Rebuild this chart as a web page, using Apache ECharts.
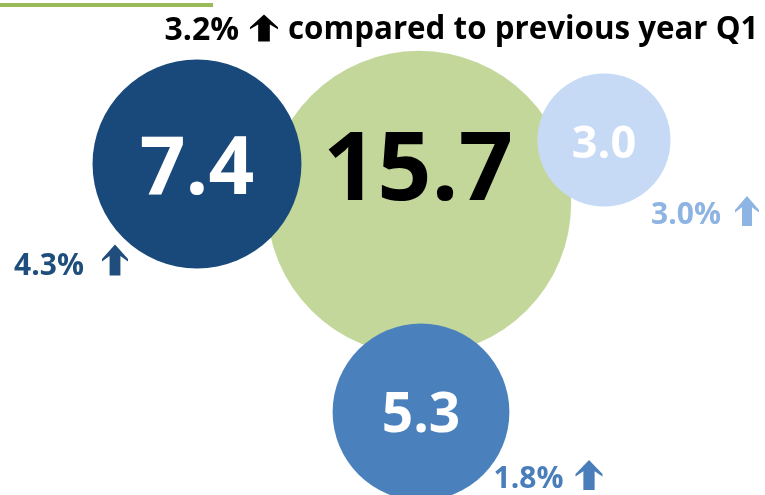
<!DOCTYPE html>
<html>
<head>
<meta charset="utf-8">
<script src="https://cdn.jsdelivr.net/npm/echarts@6/dist/echarts.min.js"></script>
<style>
  html, body { margin: 0; padding: 0; background: #ffffff; }
  #chart { width: 765px; height: 495px; }
</style>
</head>
<body>
<div id="chart"></div>
<script>
// Quarterly figures shown as area-proportional bubbles
const bubbleNames  = ['Total', 'Segment A', 'Segment B', 'Segment C'];
const bubbleValues = [15.7, 7.4, 3.0, 5.3];

// Year-over-year change for the total and each segment
const changeNames  = ['Total', 'Segment A', 'Segment B', 'Segment C'];
const changeValues = [3.2, 4.3, 3.0, 1.8];
const titleSuffix  = 'compared to previous year Q1';

// Layout: bubble centres and label placement (canvas units)
const bubbleCenters = [[419, 203], [197, 164], [604, 140], [421, 412]];
const bubbleColors  = ['#C4D79B', '#18497A', '#C6DAF5', '#4A81BD'];
const valueFonts    = [95, 80, 45, 55];
const valueColors   = ['#000000', '#ffffff', '#ffffff', '#ffffff'];
const valueOffsets  = [[-1, -30], [0, 7], [0, 5], [0, 4]];

const arrowCenters  = [[264, 28], [115, 260], [747, 211], [589, 475]];
const arrowSizes    = [[28, 27], [26, 31], [24, 30], [27, 30]];
const changeColors  = ['#000000', '#1F4E7D', '#8DB4E2', '#4A7EBB'];
const changeFonts   = [32, 30, 30, 30];
const changeGaps    = [11, 16, 14, 12];
const changeOffsets = [[0, 3], [-2, 6], [0, 4.5], [0, 4.5]];

// radius grows with the square root of the value (area proportional)
const RADIUS_PER_ROOT = 38.4;
const ARROW = 'path://M12 0L24 14.5L24 17L17 11.5L17 31L7 31L7 11.5L0 17L0 14.5Z';
const FONT = '"Open Sans", "Noto Sans", sans-serif';

const chart = echarts.init(document.getElementById('chart'), null, { renderer: 'canvas' });

const bubbleData = bubbleValues.map((v, i) => ({
  name: bubbleNames[i],
  value: [bubbleCenters[i][0], bubbleCenters[i][1], v],
  symbolSize: 2 * RADIUS_PER_ROOT * Math.sqrt(v),
  itemStyle: { color: bubbleColors[i], opacity: 1 },
  label: {
    show: true,
    position: 'inside',
    offset: valueOffsets[i],
    formatter: (p) => p.value[2].toFixed(1),
    fontSize: valueFonts[i],
    fontWeight: 'bold',
    fontFamily: FONT,
    color: valueColors[i]
  }
}));

const changeData = changeValues.map((v, i) => ({
  name: changeNames[i],
  value: [arrowCenters[i][0], arrowCenters[i][1], v],
  symbol: ARROW,
  symbolSize: arrowSizes[i],
  itemStyle: { color: changeColors[i], opacity: 1 },
  label: {
    show: true,
    position: 'left',
    distance: changeGaps[i],
    offset: changeOffsets[i],
    formatter: (p) => p.value[2].toFixed(1) + '%',
    fontSize: changeFonts[i],
    fontWeight: 'bold',
    fontFamily: FONT,
    color: changeColors[i]
  }
}));

chart.setOption({
  animation: false,
  backgroundColor: '#ffffff',
  grid: { left: 0, right: 0, top: 0, bottom: 0 },
  xAxis: { type: 'value', min: 0, max: 765, show: false },
  yAxis: { type: 'value', min: 0, max: 495, inverse: true, show: false },
  graphic: [
    {
      type: 'rect',
      left: 0, top: 3,
      shape: { width: 213, height: 4 },
      style: { fill: '#9BBB59' }
    },
    {
      type: 'text',
      left: 288, top: 15,
      style: {
        text: titleSuffix,
        fontSize: 31.3,
        fontWeight: 'bold',
        fontFamily: FONT,
        fill: '#000000'
      }
    }
  ],
  series: [
    {
      type: 'scatter',
      symbol: 'circle',
      data: bubbleData,
      emphasis: { disabled: true },
      z: 2
    },
    {
      type: 'scatter',
      data: changeData,
      emphasis: { disabled: true },
      z: 3
    }
  ]
});
</script>
</body>
</html>
